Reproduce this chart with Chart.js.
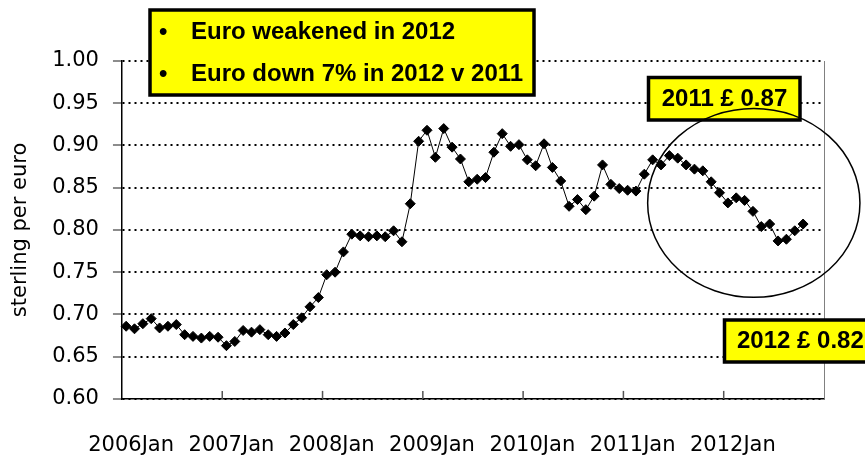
<!DOCTYPE html>
<html>
<head>
<meta charset="utf-8">
<script src="https://cdn.jsdelivr.net/npm/chart.js@4.4.1/dist/chart.umd.min.js"></script>
<style>
  html, body { margin: 0; padding: 0; background: #fff; }
</style>
</head>
<body>
<canvas id="chart" width="865" height="459"></canvas>
<script>
const years = ["2006", "2007", "2008", "2009", "2010", "2011", "2012"];
const months = ["Jan", "Feb", "Mar", "Apr", "May", "Jun", "Jul", "Aug", "Sep", "Oct", "Nov", "Dec"];

// sterling per euro, monthly, Jan 2006 - Oct 2012
const rates = [
  0.686, 0.683, 0.689, 0.695, 0.684, 0.686, 0.688, 0.676, 0.674, 0.672, 0.674, 0.673,
  0.663, 0.668, 0.681, 0.679, 0.682, 0.676, 0.674, 0.678, 0.688, 0.696, 0.709, 0.720,
  0.747, 0.750, 0.774, 0.795, 0.793, 0.792, 0.793, 0.792, 0.799, 0.786, 0.831, 0.905,
  0.918, 0.886, 0.920, 0.898, 0.884, 0.857, 0.860, 0.862, 0.892, 0.914, 0.899, 0.901,
  0.883, 0.876, 0.902, 0.874, 0.858, 0.828, 0.836, 0.824, 0.840, 0.877, 0.854, 0.849,
  0.847, 0.846, 0.866, 0.883, 0.877, 0.888, 0.885, 0.877, 0.872, 0.870, 0.857, 0.844,
  0.832, 0.838, 0.835, 0.822, 0.804, 0.807, 0.787, 0.789, 0.799, 0.807
];

const yMin = 0.60;
const yMax = 1.00;
const yStep = 0.05;

const notes = ["Euro weakened in 2012", "Euro down 7% in 2012 v 2011"];
const callout2011 = "2011 £ 0.87";
const callout2012 = "2012 £ 0.82";

const labels = [];
years.forEach(y => months.forEach(m => labels.push(y + m)));

function box(ctx, x, y, w, h) {
    ctx.fillStyle = "#ffff00";
    ctx.fillRect(x, y, w, h);
    ctx.lineWidth = 3.5;
    ctx.strokeStyle = "#000";
    ctx.strokeRect(x, y, w, h);
}

const extras = {
    id: "extras",
    beforeDatasetsDraw(chart) {
        const { ctx, chartArea, scales: { x } } = chart;
        ctx.save();
        // right frame line
        ctx.strokeStyle = "#808080";
        ctx.lineWidth = 1;
        ctx.beginPath();
        ctx.moveTo(chartArea.right + 0.5, chartArea.top);
        ctx.lineTo(chartArea.right + 0.5, chartArea.bottom);
        ctx.stroke();
        // inward tick marks at each January
        const step = x.getPixelForValue(1) - x.getPixelForValue(0);
        ctx.strokeStyle = "#555";
        ctx.lineWidth = 1.5;
        for (let i = 12; i < labels.length; i += 12) {
            const px = x.getPixelForValue(i) - step / 2;
            ctx.beginPath();
            ctx.moveTo(px, chartArea.bottom);
            ctx.lineTo(px, chartArea.bottom - 8);
            ctx.stroke();
        }
        ctx.restore();
    },
    afterDraw(chart) {
        const { ctx, scales: { x, y } } = chart;
        ctx.save();
        ctx.font = "bold 24px 'Liberation Sans', Arial, sans-serif";
        ctx.textBaseline = "middle";

        box(ctx, 150, 10, 384, 85);
        ctx.fillStyle = "#000";
        ctx.fillText("•", 159, 32);
        ctx.fillText(notes[0], 191, 32);
        ctx.fillText("•", 159, 74.5);
        ctx.fillText(notes[1], 191, 74.5);

        box(ctx, 648.5, 77.5, 151.5, 42.5);
        ctx.fillStyle = "#000";
        ctx.textAlign = "center";
        ctx.fillText(callout2011, 724.5, 99);

        box(ctx, 724.5, 320, 150, 42);
        ctx.fillStyle = "#000";
        ctx.textAlign = "left";
        ctx.fillText(callout2012, 737, 341);

        // ellipse round the 2011-2012 decline
        const cx = x.getPixelForValue(75.1);
        const cy = y.getPixelForValue(0.832);
        const rx = (x.getPixelForValue(1) - x.getPixelForValue(0)) * 12.7;
        const ry = y.getPixelForValue(0.70) - y.getPixelForValue(0.8118);
        ctx.strokeStyle = "#000";
        ctx.lineWidth = 1.5;
        ctx.beginPath();
        ctx.ellipse(cx, cy, rx, ry, 0, 0, Math.PI * 2);
        ctx.stroke();
        ctx.restore();
    }
};

new Chart(document.getElementById("chart"), {
    type: "line",
    data: {
        labels: labels,
        datasets: [{
            data: rates,
            borderColor: "#000",
            borderWidth: 1,
            tension: 0,
            pointStyle: "rectRot",
            pointRadius: 5,
            pointBackgroundColor: "#000",
            pointBorderColor: "#000",
            pointBorderWidth: 1
        }]
    },
    options: {
        responsive: false,
        animation: false,
        layout: {
            padding: { left: 8, right: 41, top: 61, bottom: 0 }
        },
        plugins: {
            legend: { display: false },
            tooltip: { enabled: false }
        },
        scales: {
            x: {
                offset: true,
                // ticks are hidden with the grid; tickLength only spaces the labels
                grid: { display: false, drawTicks: true, tickLength: 33 },
                border: { display: true, color: "#000", width: 1.5 },
                ticks: {
                    autoSkip: false,
                    maxRotation: 0,
                    padding: 2,
                    labelOffset: 5,
                    color: "#000",
                    font: { family: "'DejaVu Sans'", size: 21, lineHeight: 1.1 },
                    callback: function(value, index) {
                        return index % 12 === 0 ? this.getLabelForValue(value) : "";
                    }
                }
            },
            y: {
                min: yMin,
                max: yMax,
                title: {
                    display: true,
                    text: "sterling per euro",
                    color: "#000",
                    font: { family: "'DejaVu Sans'", size: 21 },
                    padding: { top: 0, bottom: 5 }
                },
                ticks: {
                    stepSize: yStep,
                    padding: 14,
                    color: "#000",
                    font: { family: "'DejaVu Sans'", size: 21 },
                    callback: value => value.toFixed(2)
                },
                grid: {
                    color: "#000",
                    lineWidth: 2,
                    tickLength: 9,
                    tickColor: "#666",
                    tickWidth: 1.5,
                    tickBorderDash: []
                },
                border: { display: true, color: "#000", width: 1.5, dash: [2, 4] }
            }
        }
    },
    plugins: [extras]
});
</script>
</body>
</html>
